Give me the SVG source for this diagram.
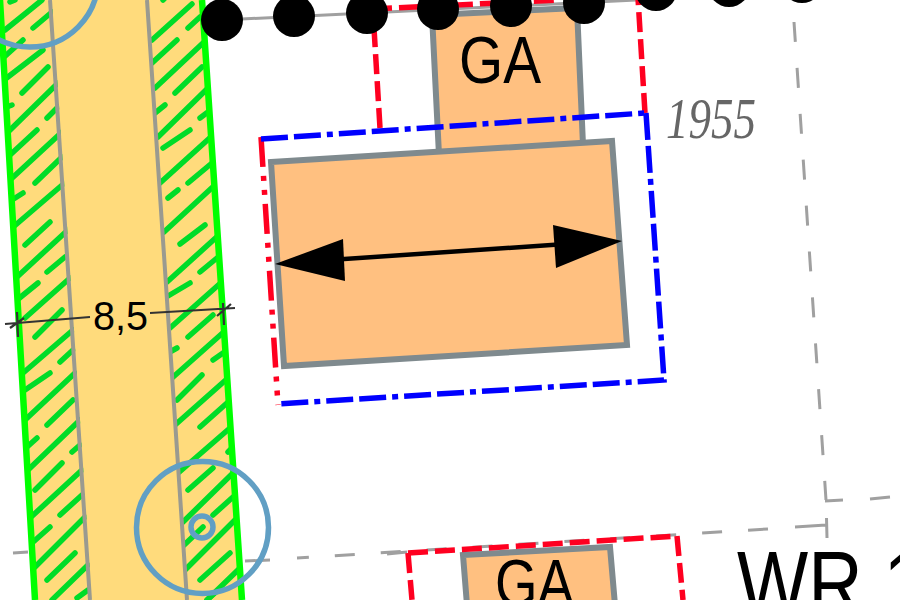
<svg xmlns="http://www.w3.org/2000/svg" width="900" height="600" viewBox="0 0 900 600">
<style>
.h{fill:none;stroke:#00dc28;stroke-width:5.500;stroke-linecap:round}
.edge{fill:none;stroke:#00ff00;stroke-width:6.500}
.kerb{fill:none;stroke:#9a9a90;stroke-width:4}
.bd{fill:none;stroke:#a0a0a0;stroke-width:3;stroke-dasharray:20 26}
.bs{fill:none;stroke:#a0a0a0;stroke-width:3}
.rd{fill:none;stroke:#ff0020;stroke-width:5.500;stroke-dasharray:20 7}
.rdd{fill:none;stroke:#ff0020;stroke-width:5.500;stroke-dasharray:30 9 5 9 5 9}
.bdd{fill:none;stroke:#0000ff;stroke-width:5.500;stroke-dasharray:27 6 27 6 6 6}
.b{fill:#ffc080;stroke:#7f8a8e;stroke-width:6}
.t{fill:none;stroke:#619fc4;stroke-width:5.500}
.dim{fill:none;stroke:#333;stroke-width:2.200}
text{font-family:"Liberation Sans",Arial,sans-serif;fill:#000}
</style>
<defs>
<clipPath id="c1"><polygon points="0,0 52,0 92,600 35,600"/></clipPath>
<clipPath id="c2"><polygon points="146,0 204,0 244,600 186,600"/></clipPath>
</defs>
<rect width="900" height="600" fill="#fff"/>
<g id="road">
<polygon points="0,0 202,0 242,600 35,600" fill="#ffdb7c"/>
<g id="hatch-left" clip-path="url(#c1)">
<path class="h" d="M5,30L42,0M4,80L43,50M7,133L58,83M10,180L62,132M12,228L68,180M17,277L70,228M25,318L70,278M23,373L73,330M25,420L75,373M28,470L80,420M30,518L82,470M35,567L85,517M52,600L88,565"/>
<path class="h" d="M10,2L15,0M33,28L52,12M3,58L23,40M22,93L48,67M4,108L12,105M47,118L58,107M10,155L37,130M35,183L62,157M12,200L23,193M25,245L50,222M47,272L65,257M17,300L38,283M35,337L62,310M60,362L73,350M25,390L50,373M47,425L73,400M27,447L37,438M72,452L80,445M35,490L62,463M60,515L82,495M32,543L50,527M47,580L75,553M77,598L88,590"/>
</g>
<g id="hatch-right" clip-path="url(#c2)">
<path class="h" d="M152,40L192,4M155,88L203,43M158,137L208,88M160,183L213,135M164,232L216,184M167,282L220,234M170,328L224,280M172,378L226,330M175,425L228,378M177,474L230,428M183,522L233,473M185,570L235,520M207,600L240,568"/>
<path class="h" d="M163,0L165,-2M188,28L200,17M152,63L177,40M175,93L202,67M155,113L165,105M200,118L208,112M163,148L190,130M188,183L212,163M168,198L178,190M180,244L205,225M200,272L217,258M168,296L190,283M188,337L213,315M168,353L177,348M213,360L223,353M177,400L202,375M200,427L227,403M228,452L232,448M188,490L213,468M213,515L233,497M182,547L203,527M200,580L230,553M207,600L216,592"/>
</g>
<path class="kerb" d="M50,0L90,600M147,0L187,600"/>
<path class="edge" d="M0,0L35,600M202,0L242,600"/>
</g>
<g id="connectors">
<path class="bs" d="M222,20L802,-8"/>
<path class="bd" d="M794,22L826,500"/>
<path class="bs" d="M825,501L843,500M870,499L890,497"/>
<path class="bs" d="M13,553L28,552M245,561L270,560M795,527L826,525M826.5,518L827,538"/>
<path class="bd" d="M768,529L297,558"/>
<path class="bs" d="M387,554L407,552"/>
<path class="rd" d="M380,128L374,28"/>
<path class="rd" d="M372,9L560,0"/>
<path class="rd" d="M645,113L638,-2"/>
</g>
<g id="garage-upper">
<polygon class="b" points="432,15 577,8 583,145 439,155"/>
</g>
<g id="house">
<polygon class="b" points="271,162 612,141 627,345 284,366"/>
</g>
<g id="building-limit">
<path class="rdd" d="M261,137L278,405"/>
<path class="bdd" d="M261,139L645,113"/>
<path class="bdd" d="M646,113L664,380L278,404"/>
</g>
<g id="garage-lower">
<polygon class="b" points="463,555 610,547 615,605 467,605"/>
<path class="rd" d="M408,553L677,536"/>
<path class="rd" d="M408,553L412,600"/>
<path class="rd" d="M677,536L683,600"/>
</g>
<g id="dots" fill="#000">
<circle cx="222" cy="20" r="21"/><circle cx="294" cy="16" r="21"/><circle cx="367" cy="13" r="21"/><circle cx="438" cy="9" r="21"/><circle cx="511" cy="6" r="21"/><circle cx="584" cy="3" r="21"/><circle cx="656" cy="-10" r="21"/><circle cx="729" cy="-14" r="21"/><circle cx="802" cy="-18" r="21"/>
</g>
<g id="ridge-arrow">
<path d="M300,262L580,243" stroke="#000" stroke-width="4.500" fill="none"/>
<polygon points="275,264 343,239 345,281" fill="#000"/>
<polygon points="622,241 553,225 556,268" fill="#000"/>
</g>
<g id="trees">
<circle class="t" cx="30" cy="-21" r="68"/>
<circle class="t" cx="202.500" cy="527.500" r="66"/>
<circle class="t" cx="202" cy="527" r="11"/>
</g>
<g id="dimension">
<path class="dim" d="M5,324L90,317M150,313L235,308M17,312L18,337M223,303L224,325M10,328L24,318M217,316L231,304"/>
<text x="93" y="330" font-size="41" textLength="55" lengthAdjust="spacingAndGlyphs" fill="#222">8,5</text>
</g>
<g id="labels">
<text x="459" y="83" font-size="66" textLength="82" lengthAdjust="spacingAndGlyphs">GA</text>
<text x="495" y="606" font-size="66" textLength="79" lengthAdjust="spacingAndGlyphs">GA</text>
<text transform="translate(737,616) scale(0.82,1)" font-size="92">WR 1</text>
<text x="666" y="138" font-size="58" textLength="90" lengthAdjust="spacingAndGlyphs" font-style="italic" style="font-family:'Liberation Serif',serif;fill:#666">1955</text>
</g>
</svg>
